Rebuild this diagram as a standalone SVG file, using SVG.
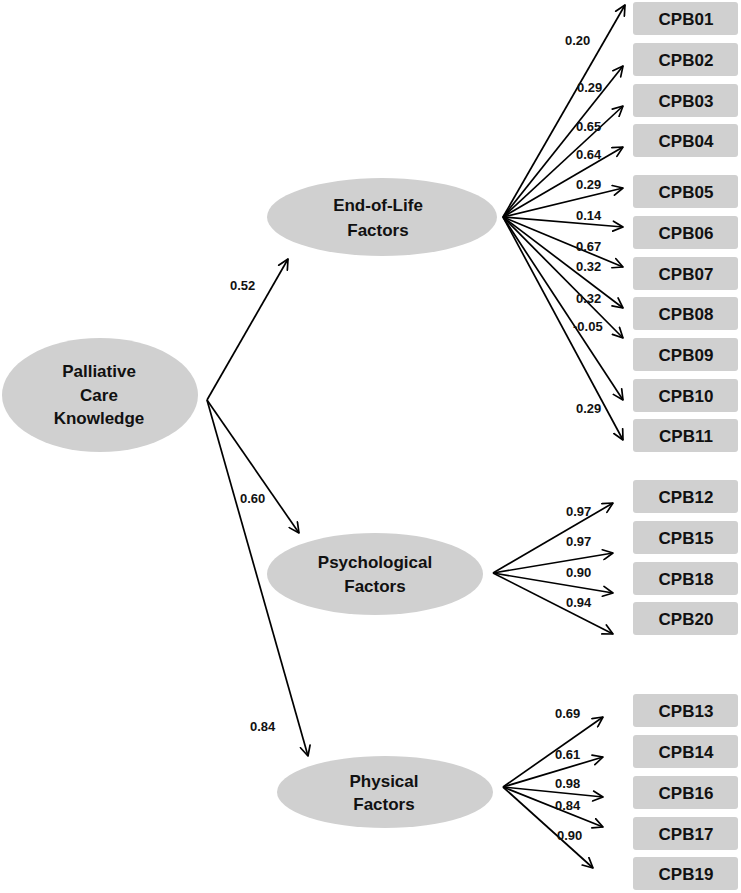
<svg xmlns="http://www.w3.org/2000/svg" width="741" height="893" viewBox="0 0 741 893">
<style>
.bg{fill:#ffffff}
.ell{fill:#d0d0d0}
.box{fill:#d0d0d0}
.lt{font-family:"Liberation Sans",Arial,sans-serif;font-weight:bold;font-size:17px;fill:#111;text-anchor:middle}
.bt{font-family:"Liberation Sans",Arial,sans-serif;font-weight:bold;font-size:17px;fill:#111;text-anchor:middle}
.num{font-family:"Liberation Sans",Arial,sans-serif;font-weight:bold;font-size:13px;fill:#111}
.c{stroke:#000;stroke-width:1.7;fill:none;marker-end:url(#ah)}
</style>
<defs>
<marker id="ah" viewBox="0 0 12 12" refX="11" refY="6" markerWidth="12" markerHeight="12" markerUnits="userSpaceOnUse" orient="auto">
<path d="M1,1 L11,6 L1,11" fill="none" stroke="#000" stroke-width="1.7" stroke-linecap="round" stroke-linejoin="round"/>
</marker>
</defs>
<rect class="bg" x="0" y="0" width="741" height="893"/>

<g id="pck">
<ellipse class="ell" cx="100" cy="395" rx="98" ry="57"/>
<text class="lt" x="99" y="377">Palliative</text>
<text class="lt" x="99" y="401">Care</text>
<text class="lt" x="99" y="424">Knowledge</text>
</g>
<g id="eol">
<ellipse class="ell" cx="382" cy="217" rx="115" ry="39"/>
<text class="lt" x="378" y="211">End-of-Life</text>
<text class="lt" x="378" y="236">Factors</text>
</g>
<g id="psy">
<ellipse class="ell" cx="375" cy="574" rx="108" ry="41"/>
<text class="lt" x="375" y="568">Psychological</text>
<text class="lt" x="375" y="592">Factors</text>
</g>
<g id="phy">
<ellipse class="ell" cx="385" cy="792" rx="108" ry="36"/>
<text class="lt" x="384" y="787">Physical</text>
<text class="lt" x="384" y="810">Factors</text>
</g>

<g id="cpb01"><rect class="box" x="633" y="2" width="105" height="33" rx="3"/><text class="bt" x="686" y="24.5">CPB01</text></g>
<g id="cpb02"><rect class="box" x="633" y="43" width="105" height="33" rx="3"/><text class="bt" x="686" y="65.5">CPB02</text></g>
<g id="cpb03"><rect class="box" x="633" y="84" width="105" height="33" rx="3"/><text class="bt" x="686" y="106.5">CPB03</text></g>
<g id="cpb04"><rect class="box" x="633" y="124" width="105" height="33" rx="3"/><text class="bt" x="686" y="146.5">CPB04</text></g>
<g id="cpb05"><rect class="box" x="633" y="175" width="105" height="33" rx="3"/><text class="bt" x="686" y="197.5">CPB05</text></g>
<g id="cpb06"><rect class="box" x="633" y="216" width="105" height="33" rx="3"/><text class="bt" x="686" y="238.5">CPB06</text></g>
<g id="cpb07"><rect class="box" x="633" y="257" width="105" height="33" rx="3"/><text class="bt" x="686" y="279.5">CPB07</text></g>
<g id="cpb08"><rect class="box" x="633" y="297" width="105" height="33" rx="3"/><text class="bt" x="686" y="319.5">CPB08</text></g>
<g id="cpb09"><rect class="box" x="633" y="338" width="105" height="33" rx="3"/><text class="bt" x="686" y="360.5">CPB09</text></g>
<g id="cpb10"><rect class="box" x="633" y="379" width="105" height="33" rx="3"/><text class="bt" x="686" y="401.5">CPB10</text></g>
<g id="cpb11"><rect class="box" x="633" y="419" width="105" height="33" rx="3"/><text class="bt" x="686" y="441.5">CPB11</text></g>

<g id="cpb12"><rect class="box" x="633" y="480" width="105" height="33" rx="3"/><text class="bt" x="686" y="502.5">CPB12</text></g>
<g id="cpb15"><rect class="box" x="633" y="521" width="105" height="33" rx="3"/><text class="bt" x="686" y="543.5">CPB15</text></g>
<g id="cpb18"><rect class="box" x="633" y="562" width="105" height="33" rx="3"/><text class="bt" x="686" y="584.5">CPB18</text></g>
<g id="cpb20"><rect class="box" x="633" y="602" width="105" height="33" rx="3"/><text class="bt" x="686" y="624.5">CPB20</text></g>

<g id="cpb13"><rect class="box" x="633" y="694" width="105" height="33" rx="3"/><text class="bt" x="686" y="716.5">CPB13</text></g>
<g id="cpb14"><rect class="box" x="633" y="735" width="105" height="33" rx="3"/><text class="bt" x="686" y="757.5">CPB14</text></g>
<g id="cpb16"><rect class="box" x="633" y="776" width="105" height="33" rx="3"/><text class="bt" x="686" y="798.5">CPB16</text></g>
<g id="cpb17"><rect class="box" x="633" y="817" width="105" height="33" rx="3"/><text class="bt" x="686" y="839.5">CPB17</text></g>
<g id="cpb19"><rect class="box" x="633" y="857" width="105" height="33" rx="3"/><text class="bt" x="686" y="879.5">CPB19</text></g>

<g id="connectors">
<path class="c" d="M207,400 L288,259"/>
<path class="c" d="M207,400 L299,533"/>
<path class="c" d="M207,400 L308,756"/>

<path class="c" d="M503,217 L625,5"/>
<path class="c" d="M503,217 L623,66"/>
<path class="c" d="M503,217 L623,106"/>
<path class="c" d="M503,217 L623,147"/>
<path class="c" d="M503,217 L623,188"/>
<path class="c" d="M503,217 L623,227"/>
<path class="c" d="M503,217 L623,267"/>
<path class="c" d="M503,217 L623,308"/>
<path class="c" d="M503,217 L623,338"/>
<path class="c" d="M503,217 L623,400"/>
<path class="c" d="M503,217 L623,440"/>

<path class="c" d="M493,573 L613,503"/>
<path class="c" d="M493,573 L613,553"/>
<path class="c" d="M493,573 L613,593"/>
<path class="c" d="M493,573 L613,634"/>

<path class="c" d="M503,787 L603,717"/>
<path class="c" d="M503,787 L603,757"/>
<path class="c" d="M503,787 L603,797"/>
<path class="c" d="M503,787 L603,827"/>
<path class="c" d="M503,787 L593,868"/>

<text class="num" x="230" y="290">0.52</text>
<text class="num" x="240" y="503">0.60</text>
<text class="num" x="250" y="731">0.84</text>

<text class="num" x="565" y="45">0.20</text>
<text class="num" x="577" y="92">0.29</text>
<text class="num" x="576" y="131">0.65</text>
<text class="num" x="576" y="159">0.64</text>
<text class="num" x="576" y="189">0.29</text>
<text class="num" x="576" y="220">0.14</text>
<text class="num" x="576" y="251">0.67</text>
<text class="num" x="576" y="271">0.32</text>
<text class="num" x="576" y="303">0.32</text>
<text class="num" x="573" y="331">-0.05</text>
<text class="num" x="576" y="413">0.29</text>

<text class="num" x="566" y="516">0.97</text>
<text class="num" x="566" y="546">0.97</text>
<text class="num" x="566" y="577">0.90</text>
<text class="num" x="566" y="607">0.94</text>

<text class="num" x="555" y="718">0.69</text>
<text class="num" x="555" y="759">0.61</text>
<text class="num" x="555" y="788">0.98</text>
<text class="num" x="555" y="810">0.84</text>
<text class="num" x="557" y="840">0.90</text>
</g>
</svg>
